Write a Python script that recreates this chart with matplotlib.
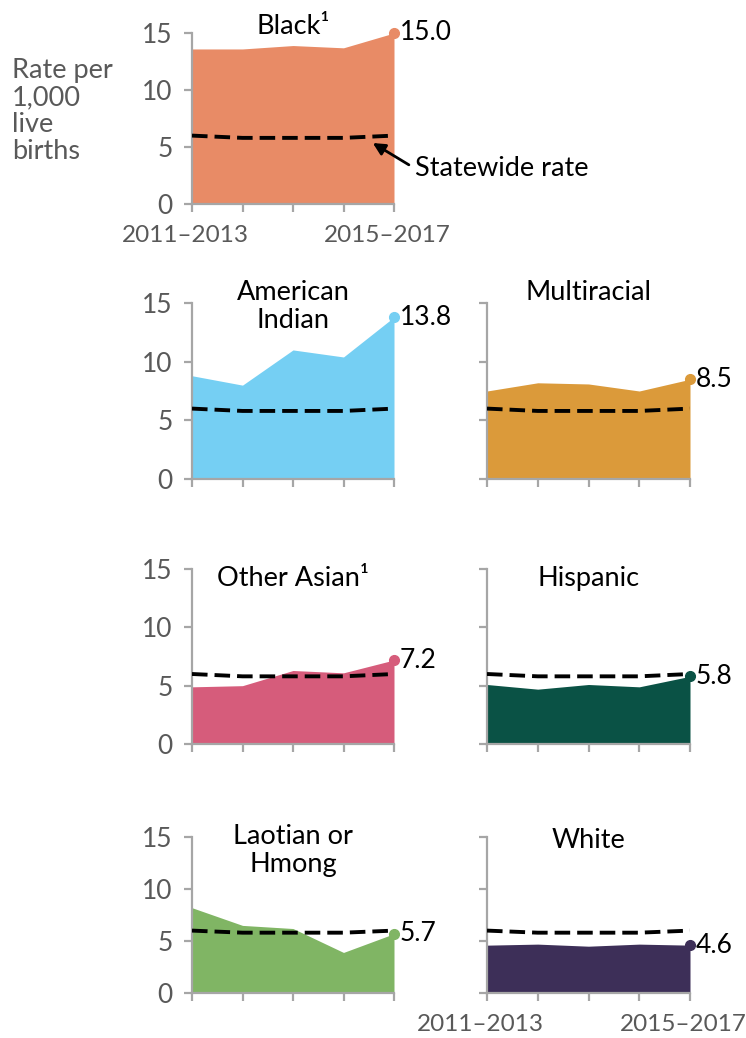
import numpy as np
import matplotlib
matplotlib.use('Agg')
import matplotlib.pyplot as plt
from matplotlib.transforms import ScaledTranslation

plt.rcParams['font.family'] = ['Lato', 'DejaVu Sans']

#%% Data - rate per 1,000 live births, 3-year periods

periods = ['2011–2013', '2012–2014', '2013–2015', '2014–2016', '2015–2017']
statewide = [6.0, 5.8, 5.8, 5.8, 6.0]

black = [13.6, 13.6, 13.9, 13.7, 15.0]
american_indian = [8.8, 8.0, 11.0, 10.4, 13.8]
multiracial = [7.5, 8.2, 8.1, 7.5, 8.5]
other_asian = [4.9, 5.0, 6.3, 6.1, 7.2]
hispanic = [5.1, 4.7, 5.1, 4.9, 5.8]
laotian_hmong = [8.2, 6.5, 6.2, 3.9, 5.7]
white = [4.6, 4.7, 4.5, 4.7, 4.6]

titles = ['Black¹', 'American\nIndian', 'Multiracial', 'Other Asian¹',
          'Hispanic', 'Laotian or\nHmong', 'White']
series = [black, american_indian, multiracial, other_asian,
          hispanic, laotian_hmong, white]
colors = ['#E88B66', '#75CFF3', '#DB9A3A', '#D65C7B',
          '#0A5245', '#80B564', '#3D2F58']

#%% Layout (pixels of the 746x1038 picture)

W, H = 746, 1038
cols = [(192, 394), (487, 690)]
rows = [(33, 204), (303, 479), (569, 744), (837, 993)]
# (row, col, title offset in px above axes top, show xtick labels)
slots = [(0, 0, 6, True), (1, 0, 10, False), (1, 1, 10, False),
         (2, 0, -10, False), (2, 1, -10, False), (3, 0, 0, False), (3, 1, -4, True)]

grey = '#595959'
axis_grey = '#A6A6A6'

fig = plt.figure(figsize=(W / 100, H / 100), dpi=100)

x = np.arange(len(periods))

for (r, c, toff, show_lbl), title, vals, col in zip(slots, titles, series, colors):
    x0, x1 = cols[c]
    top, bot = rows[r]
    ax = fig.add_axes([x0 / W, 1 - bot / H, (x1 - x0) / W, (bot - top) / H])
    ax.fill_between(x, 0, vals, color=col, lw=0)
    ax.plot(x, statewide, color='black', lw=2.8, ls=(0, (4, 1.8)), zorder=3)
    ax.plot(x[-1], vals[-1], 'o', color=col, ms=7, zorder=4, clip_on=False)
    ax.annotate(f'{vals[-1]:.1f}', (x[-1], vals[-1]), xytext=(4, 0),
                textcoords='offset points', va='center', ha='left',
                fontsize=19, color='black', annotation_clip=False)

    ax.set_xlim(0, 4)
    ax.set_ylim(0, 15)
    ax.set_xticks(x)
    ax.set_yticks([0, 5, 10, 15])
    for s in ['top', 'right']:
        ax.spines[s].set_visible(False)
    for s in ['left', 'bottom']:
        ax.spines[s].set_color(axis_grey)
        ax.spines[s].set_linewidth(1.6)
    ax.tick_params(length=6, width=1.6, color=axis_grey, labelcolor=grey)
    ax.tick_params(axis='y', labelsize=19, pad=8)
    ax.tick_params(axis='x', labelsize=17.5, pad=9)
    if c == 1:
        ax.set_yticklabels([])
    if show_lbl:
        ax.set_xticklabels([periods[0], '', '', '', periods[-1]])
        for lab in ax.get_xticklabels():
            lab.set_transform(lab.get_transform() +
                              ScaledTranslation(-0.07, 0, fig.dpi_scale_trans))
    else:
        ax.set_xticklabels([])

    # panel title, first line centred toff px above the axes top
    ytop = 1 + (toff + 13) / (bot - top)
    ax.text(0.5, ytop, title, transform=ax.transAxes, ha='center', va='top',
            fontsize=19.5, color='black', linespacing=1.15)

    if title.startswith('Black'):
        ax.annotate('Statewide rate', xy=(3.58, 5.35), xytext=(4.42, 3.1),
                    va='center', ha='left', fontsize=19.5, color='black',
                    annotation_clip=False,
                    arrowprops=dict(arrowstyle='-|>', color='black', lw=2,
                                    mutation_scale=18, relpos=(0, 0.5),
                                    shrinkA=3, shrinkB=0))

fig.text(12 / W, 1 - 58 / H, 'Rate per\n1,000\nlive\nbirths', ha='left', va='top',
         fontsize=19.5, color=grey, linespacing=1.1)

fig.savefig('out.png', dpi=100)
